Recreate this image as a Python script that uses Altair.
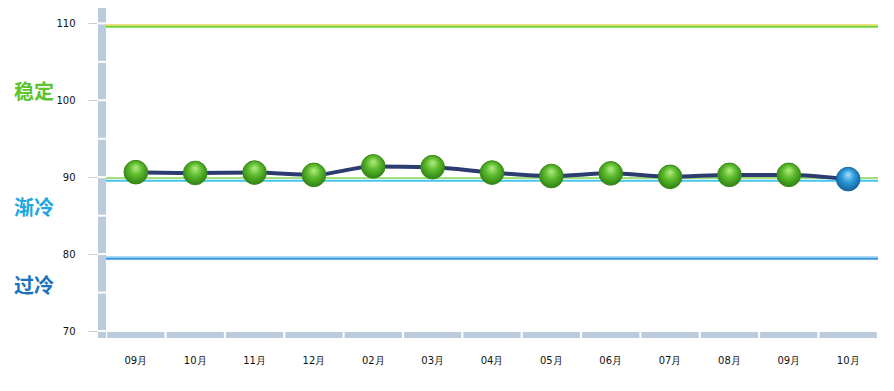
import altair as alt
import pandas as pd

months = ["09月", "10月", "11月", "12月", "02月", "03月", "04月", "05月", "06月", "07月", "08月", "09月 ", "10月 "]
values = [90.65, 90.55, 90.6, 90.3, 91.4, 91.3, 90.6, 90.15, 90.5, 90.05, 90.3, 90.3, 89.75]
status = ["ok"] * 12 + ["cold"]

zone_names = ["稳定", "渐冷", "过冷"]
zone_pos = [100.9, 85.8, 75.7]
zone_colors = ["#5cc42c", "#22a6e0", "#1a72be"]

thresh_vals = [109.78, 109.55, 89.9, 89.55, 79.62, 79.4]
thresh_cols = ["#f3e27c", "#72d43c", "#a6df78", "#45c6ea", "#a9dcf5", "#3f94d8"]

W, H = 772, 323
XDOM = months
YDOM = [70, 112]

df = pd.DataFrame({"month": months, "value": values, "status": status})
zones = pd.DataFrame({"name": zone_names, "y": zone_pos, "color": zone_colors})
th = pd.DataFrame({"y": thresh_vals, "color": thresh_cols})
ticks = pd.DataFrame({"y": list(range(70, 111, 5))})

xs = alt.Scale(domain=XDOM, paddingInner=0.035, paddingOuter=0.02)
ys = alt.Scale(domain=YDOM, nice=False, zero=False)

# vertical band left of plot
vband = alt.Chart(pd.DataFrame({"a": [0]})).mark_rect(color="#b9cbdd").encode(
    x=alt.value(-8), x2=alt.value(0), y=alt.value(-8), y2=alt.value(H + 7)
)
vticks = alt.Chart(ticks).mark_rule(color="white", strokeWidth=2).encode(
    x=alt.value(-8), x2=alt.value(0), y=alt.Y("y:Q", scale=ys)
)
hband = alt.Chart(df).mark_rect(color="#b9cbdd").encode(
    x=alt.X("month:N", scale=xs, sort=None,
            axis=alt.Axis(title=None, domain=False, ticks=False, labelAngle=0,
                          labelPadding=24, labelFontSize=10, labelColor="#111",
                          labelFont="DejaVu Sans")),
    y=alt.value(H + 1), y2=alt.value(H + 7)
)

thr = alt.Chart(th).mark_rule(strokeWidth=2).encode(
    x=alt.value(0), x2=alt.value(W),
    y=alt.Y("y:Q", scale=ys,
            axis=alt.Axis(title=None, values=[70, 80, 90, 100, 110], domain=False,
                          grid=False, tickColor="#cccccc", tickSize=9, offset=9,
                          labelPadding=13, labelFontSize=10, labelColor="#111",
                          labelFont="DejaVu Sans")),
    color=alt.Color("color:N", scale=None)
)

line = alt.Chart(df).mark_line(color="#2c3c70", strokeWidth=4, interpolate="monotone").encode(
    x=alt.X("month:N", scale=xs, sort=None), y=alt.Y("value:Q", scale=ys)
)

green_grad = alt.RadialGradient(gradient="radial", x1=0.5, y1=0.3, r1=0, x2=0.5, y2=0.45, r2=0.6,
                                stops=[alt.GradientStop(offset=0, color="#b4ee86"),
                                       alt.GradientStop(offset=0.45, color="#5dbb2c"),
                                       alt.GradientStop(offset=1, color="#2a7a12")])
blue_grad = alt.RadialGradient(gradient="radial", x1=0.5, y1=0.3, r1=0, x2=0.5, y2=0.45, r2=0.6,
                               stops=[alt.GradientStop(offset=0, color="#a8e0fa"),
                                      alt.GradientStop(offset=0.45, color="#2c9ad8"),
                                      alt.GradientStop(offset=1, color="#0d5c98")])

pts_g = alt.Chart(df).transform_filter(alt.datum.status == "ok").mark_point(
    shape="circle", size=560, filled=True, fill=green_grad, stroke="#3b8a1c",
    strokeWidth=1, opacity=1
).encode(x=alt.X("month:N", scale=xs, sort=None), y=alt.Y("value:Q", scale=ys))

pts_b = alt.Chart(df).transform_filter(alt.datum.status == "cold").mark_point(
    shape="circle", size=560, filled=True, fill=blue_grad, stroke="#1b6aa5",
    strokeWidth=1, opacity=1
).encode(x=alt.X("month:N", scale=xs, sort=None), y=alt.Y("value:Q", scale=ys))

ztext = alt.Chart(zones).mark_text(align="left", baseline="middle", fontSize=20,
                                   fontWeight="bold", font="Noto Sans CJK SC").encode(
    x=alt.value(-92), y=alt.Y("y:Q", scale=ys), text="name:N",
    color=alt.Color("color:N", scale=None)
)

chart = alt.layer(vband, vticks, hband, thr, line, pts_g, pts_b, ztext).properties(
    width=W, height=H,
    autosize=alt.AutoSizeParams(type="none"),
    padding={"left": 98, "top": 0, "right": 8, "bottom": 45},
).configure(background="white").configure_view(stroke=None, strokeWidth=0)

chart.save("out.html", embed_options={"renderer": "svg", "actions": False})
